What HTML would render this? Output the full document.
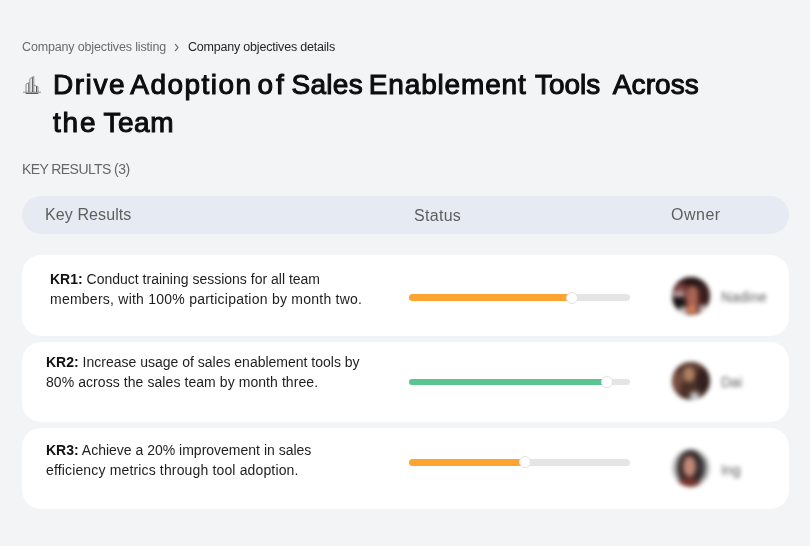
<!DOCTYPE html>
<html>
<head>
<meta charset="utf-8">
<style>
*{margin:0;padding:0;box-sizing:border-box;}
html,body{width:810px;height:546px;overflow:hidden;background:#f3f4f6;}
body{position:relative;font-family:"Liberation Sans",sans-serif;color:#1a1a1a;}
.a{position:absolute;white-space:nowrap;}
.t{will-change:transform;}
.bc{font-size:12.5px;line-height:16px;top:38.7px;color:#6b6b6b;letter-spacing:-0.15px;}
.bc.cur{color:#252525;}
.bc .chev{display:inline-block;margin:0 7px 0 8px;color:#777;}
.title{left:53px;top:65.7px;width:700px;height:80px;font-size:28px;line-height:38.2px;font-weight:normal;color:#0d0d0d;-webkit-text-stroke:1.05px #0d0d0d;}
.title span{position:absolute;white-space:nowrap;}
.krl{left:22px;top:161.3px;font-size:14px;line-height:16px;color:#666;letter-spacing:-0.58px;}
.hdr{left:22px;top:196px;width:767px;height:37.8px;border-radius:19px;background:#e6ebf3;}
.hl{font-size:16px;line-height:20px;color:#5e5e5e;}
.card{left:22px;width:767px;background:#fff;border-radius:19px;}
.kr{font-size:14px;line-height:20.2px;color:#1e1e1e;}
.kr b{font-weight:bold;color:#111;}
.track{left:409px;width:221px;height:7px;border-radius:3.5px;background:#e5e5e5;overflow:hidden;}
.fill{position:absolute;left:0;top:0;height:7px;}
.thumb{position:absolute;width:12px;height:12px;border-radius:50%;background:#fff;border:1px solid #e2e2e2;}
.av{position:absolute;width:38px;height:38px;border-radius:50%;overflow:hidden;filter:blur(2.2px);}
.av i{position:absolute;display:block;filter:blur(1.5px);}
.nm{position:absolute;font-size:14px;line-height:16px;color:#5a5a5a;filter:blur(2.3px);}
</style>
</head>
<body>
<div class="a bc t" style="left:21.5px;">Company objectives listing</div>
<svg class="a" style="left:170px;top:40px;" width="12" height="14" viewBox="170 40 12 14" fill="none" stroke="#5a5a5a" stroke-width="1.1"><path d="M175.2 44.2 L178.0 47.5 L175.2 50.8"/></svg>
<div class="a bc cur t" style="left:188.3px;letter-spacing:-0.2px;">Company objectives details</div>

<svg class="a" style="left:20px;top:70px;" width="24" height="28" viewBox="20 70 24 28" fill="none" stroke-width="1">
  <g stroke="#8c8c8c">
  <path d="M26 92 V84.2 L29.5 82.4"/>
  <path d="M29.8 92 V78.8 L33.8 76.4 V92"/>
  <path d="M33.8 85.2 L38 86.8 V92"/>
  <path d="M23 92.2 H41"/>
  </g>
  <g stroke="#555">
  <path d="M28.6 92 V83.2" stroke="#777"/>
  <path d="M32.4 92 V77.4"/>
  <path d="M36.5 92 V86.4"/>
  <path d="M25.7 93.4 H38.4" stroke-width="1.1"/>
  </g>
</svg>

<div class="a title t"><span style="left:-0.1px;top:0.0px;letter-spacing:1.58px;">Drive</span><span style="left:77.3px;top:0.0px;letter-spacing:1.47px;">Adoption</span><span style="left:204.5px;top:0.0px;letter-spacing:3.0px;">of</span><span style="left:238.4px;top:0.0px;letter-spacing:0.33px;">Sales</span><span style="left:315.8px;top:0.0px;letter-spacing:0.84px;">Enablement</span><span style="left:482.0px;top:0.0px;letter-spacing:-0.05px;">Tools</span><span style="left:559.8px;top:0.0px;letter-spacing:0.1px;">Across</span><span style="left:-0.1px;top:38.2px;letter-spacing:1.85px;">the</span><span style="left:50.4px;top:38.2px;letter-spacing:0.53px;">Team</span></div>

<div class="a krl t">KEY RESULTS (3)</div>

<div class="a hdr"></div>
<div class="a hl t" style="left:45.3px;top:205.0px;letter-spacing:0.1px;">Key Results</div>
<div class="a hl t" style="left:414px;top:206.2px;letter-spacing:0.3px;">Status</div>
<div class="a hl t" style="left:671.2px;top:205.2px;letter-spacing:0.5px;">Owner</div>

<div class="a card" style="top:255px;height:80.7px;"></div>
<div class="a card" style="top:341.8px;height:79.9px;"></div>
<div class="a card" style="top:427.7px;height:81.1px;"></div>

<div class="a kr t" style="left:50px;top:268.95px;"><span><b>KR1:</b> Conduct training sessions for all team</span><br><span style="letter-spacing:0.24px;">members, with 100% participation by month two.</span></div>
<div class="a kr t" style="left:46px;top:352.35px;"><span><b>KR2:</b> Increase usage of sales enablement tools by</span><br><span style="letter-spacing:0.07px;">80% across the sales team by month three.</span></div>
<div class="a kr t" style="left:46px;top:439.95px;"><span><b>KR3:</b> Achieve a 20% improvement in sales</span><br><span style="letter-spacing:0.15px;">efficiency metrics through tool adoption.</span></div>

<div class="a track" style="top:294px;"><div class="fill" style="width:163px;background:#fda432;"></div></div>
<div class="thumb" style="left:565.6px;top:291.8px;"></div>
<div class="a track" style="top:378.6px;height:6.4px;"><div class="fill" style="width:198px;background:#5bc590;"></div></div>
<div class="thumb" style="left:600.7px;top:376px;"></div>
<div class="a track" style="top:459px;"><div class="fill" style="width:116px;background:#fda432;"></div></div>
<div class="thumb" style="left:519px;top:455.9px;"></div>

<div class="av" style="left:671.5px;top:276.5px;background:#3a2020;">
  <i style="left:-2.0px;top:-2.0px;width:42.0px;height:14.0px;background:#261616;border-radius:0;"></i>
  <i style="left:2.2px;top:7.2px;width:13.8px;height:7.4px;background:#8a4444;border-radius:40%;"></i>
  <i style="left:0.4px;top:14.6px;width:13.6px;height:6.4px;background:#c8b0b0;border-radius:40%;"></i>
  <i style="left:1.3px;top:21.0px;width:11.0px;height:10.0px;background:#121010;border-radius:40%;"></i>
  <i style="left:14.0px;top:9.0px;width:13.0px;height:21.0px;background:#ac6454;border-radius:40%;"></i>
  <i style="left:15.0px;top:28.3px;width:10.0px;height:9.7px;background:#de8058;border-radius:40%;"></i>
  <i style="left:27.0px;top:4.5px;width:12.0px;height:25.5px;background:#3a1e1e;border-radius:40%;"></i>
  <i style="left:7.0px;top:30.0px;width:8.0px;height:8.0px;background:#d8cccc;border-radius:40%;"></i>
  <i style="left:27.0px;top:28.0px;width:9.0px;height:8.0px;background:#d0c0c0;border-radius:40%;"></i>
</div>
<div class="av" style="left:671.5px;top:361.5px;background:#4a3028;">
  <i style="left:-2.0px;top:-2.0px;width:42.0px;height:10.0px;background:#5a3a30;border-radius:0;"></i>
  <i style="left:11.4px;top:5.4px;width:11.9px;height:15.6px;background:#b08264;border-radius:45%;"></i>
  <i style="left:0.4px;top:10.0px;width:11.0px;height:22.0px;background:#7a5040;border-radius:40%;"></i>
  <i style="left:25.0px;top:7.2px;width:14.0px;height:22.8px;background:#33201e;border-radius:40%;"></i>
  <i style="left:8.6px;top:21.0px;width:10.1px;height:11.0px;background:#4a3028;border-radius:40%;"></i>
  <i style="left:18.7px;top:30.0px;width:9.2px;height:9.0px;background:#c8d2d2;border-radius:40%;"></i>
</div>
<div class="av" style="left:671.5px;top:449px;background:#c4c4c4;">
  <i style="left:5.0px;top:0.5px;width:27.5px;height:36.5px;background:#2e2323;border-radius:50%;"></i>
  <i style="left:27.0px;top:9.0px;width:6.0px;height:18.6px;background:#3c3c44;border-radius:50%;"></i>
  <i style="left:11.5px;top:7.0px;width:13.0px;height:21.0px;background:#c48a7a;border-radius:50%;"></i>
  <i style="left:6.0px;top:29.0px;width:21.0px;height:10.0px;background:#7a3530;border-radius:50%;"></i>
</div>

<div class="nm" style="left:721px;top:288.5px;letter-spacing:0.3px;">Nadine</div>
<div class="nm" style="left:721px;top:374.3px;">Dai</div>
<div class="nm" style="left:721px;top:462px;">Ing</div>
</body>
</html>
